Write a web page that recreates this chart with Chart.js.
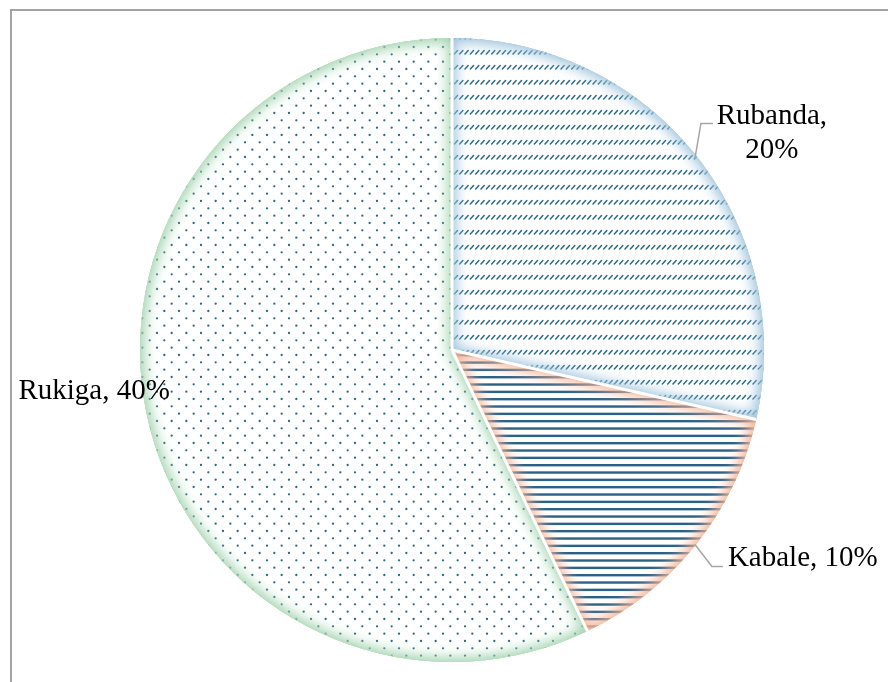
<!DOCTYPE html>
<html lang="en">
<head>
    <meta charset="UTF-8">
    <title>Distribution by District</title>
    <script src="https://cdn.jsdelivr.net/npm/chart.js"></script>
    <style>
        html, body {
            margin: 0;
            padding: 0;
            background: #ffffff;
            overflow: hidden;
        }
        .frame {
            position: absolute;
            left: 10px;
            top: 9px;
            width: 900px;
            height: 700px;
            border-top: 2px solid #a3a3a3;
            border-left: 2px solid #a3a3a3;
        }
        canvas {
            position: absolute;
            left: 0;
            top: 0;
        }
    </style>
</head>
<body>
    <div class="frame"></div>
    <canvas id="pie" width="888" height="682"></canvas>

    <script>
        // district shares
        const districts = ['Rubanda', 'Kabale', 'Rukiga'];
        const shares = [20, 10, 40];
        const shareLabels = ['20%', '10%', '40%'];

        const ink = '#2c6a8c';
        const glowColors = ['#9fc4dc', '#f4b293', '#a3d3b0'];

        function makeTile(w, h, draw) {
            const c = document.createElement('canvas');
            c.width = w;
            c.height = h;
            const g = c.getContext('2d');
            draw(g);
            return document.createElement('canvas').getContext('2d').createPattern(c, 'repeat');
        }

        // short upward diagonal dashes in rows
        const dashPattern = makeTile(16, 15, g => {
            g.strokeStyle = ink;
            g.lineWidth = 1.5;
            g.lineCap = 'round';
            for (let i = 0; i < 3; i++) {
                const x = i * 16 / 3 + 1;
                g.beginPath();
                g.moveTo(x, 9);
                g.lineTo(x + 3.2, 5.5);
                g.stroke();
            }
        });

        // horizontal lines
        const linePattern = makeTile(8, 22, g => {
            g.fillStyle = '#2a6189';
            for (let i = 0; i < 3; i++) {
                g.fillRect(0, i * 22 / 3 + 2, 8, 2.4);
            }
        });

        // staggered dots
        const dotPattern = makeTile(44, 44, g => {
            g.fillStyle = '#2d6a7f';
            for (let row = 0; row < 6; row++) {
                for (let col = 0; col < 3; col++) {
                    const x = col * 44 / 3 + (row % 2 ? 22 / 3 : 0) + 3;
                    const y = row * 44 / 6 + 3;
                    g.beginPath();
                    g.arc(x, y, 1.15, 0, Math.PI * 2);
                    g.fill();
                }
            }
        });

        function slicePath(ctx, a) {
            ctx.beginPath();
            ctx.moveTo(a.x, a.y);
            ctx.arc(a.x, a.y, a.outerRadius, a.startAngle, a.endAngle);
            ctx.closePath();
        }

        // soft coloured glow along the inside of every slice, then white separators
        const sliceGlow = {
            id: 'sliceGlow',
            afterDatasetsDraw(chart) {
                const ctx = chart.ctx;
                const arcs = chart.getDatasetMeta(0).data;
                arcs.forEach((el, i) => {
                    const a = el.getProps(['x', 'y', 'startAngle', 'endAngle', 'outerRadius'], true);
                    ctx.save();
                    slicePath(ctx, a);
                    ctx.clip();
                    ctx.beginPath();
                    ctx.rect(-2000, -2000, 5000, 5000);
                    ctx.moveTo(a.x, a.y);
                    ctx.arc(a.x, a.y, a.outerRadius, a.startAngle, a.endAngle);
                    ctx.closePath();
                    ctx.shadowColor = glowColors[i];
                    ctx.shadowBlur = 16;
                    ctx.fillStyle = glowColors[i];
                    ctx.fill('evenodd');
                    ctx.fill('evenodd');
                    ctx.restore();
                });
                ctx.save();
                ctx.strokeStyle = '#ffffff';
                ctx.lineWidth = 3;
                ctx.lineJoin = 'round';
                arcs.forEach(el => {
                    const a = el.getProps(['x', 'y', 'startAngle', 'endAngle', 'outerRadius'], true);
                    ctx.beginPath();
                    ctx.moveTo(a.x + a.outerRadius * Math.cos(a.startAngle), a.y + a.outerRadius * Math.sin(a.startAngle));
                    ctx.lineTo(a.x, a.y);
                    ctx.stroke();
                });
                ctx.restore();
            }
        };

        // category and percentage labels with leader lines
        const pieLabels = {
            id: 'pieLabels',
            afterDraw(chart) {
                const ctx = chart.ctx;
                const arcs = chart.getDatasetMeta(0).data;
                ctx.save();
                ctx.font = '29px "Liberation Serif", "Times New Roman", serif';
                ctx.fillStyle = '#000000';
                ctx.strokeStyle = '#a6a6a6';
                ctx.lineWidth = 1.5;
                arcs.forEach((el, i) => {
                    const a = el.getProps(['x', 'y', 'startAngle', 'endAngle', 'outerRadius'], true);
                    const mid = (a.startAngle + a.endAngle) / 2;
                    const ex = a.x + a.outerRadius * Math.cos(mid);
                    const ey = a.y + a.outerRadius * Math.sin(mid);
                    const name = districts[i] + ',';
                    if (i === 0) {
                        ctx.beginPath();
                        ctx.moveTo(ex - 1, ey + 3);
                        ctx.lineTo(ex + 5, ey - 32);
                        ctx.lineTo(ex + 17, ey - 32);
                        ctx.stroke();
                        ctx.textAlign = 'center';
                        ctx.textBaseline = 'alphabetic';
                        ctx.fillText(name, ex + 76, ey - 31);
                        ctx.fillText(shareLabels[i], ex + 76, ey + 3);
                    } else if (i === 1) {
                        ctx.beginPath();
                        ctx.moveTo(ex - 1, ey);
                        ctx.lineTo(ex + 16, ey + 22);
                        ctx.lineTo(ex + 27, ey + 22);
                        ctx.stroke();
                        ctx.textAlign = 'left';
                        ctx.textBaseline = 'alphabetic';
                        ctx.fillText(name + ' ' + shareLabels[i], ex + 32, ey + 21);
                    } else {
                        ctx.textAlign = 'right';
                        ctx.textBaseline = 'alphabetic';
                        ctx.fillText(name + ' ' + shareLabels[i], ex + 22, ey - 20);
                    }
                });
                ctx.restore();
            }
        };

        new Chart(document.getElementById('pie').getContext('2d'), {
            type: 'pie',
            data: {
                labels: districts,
                datasets: [{
                    data: shares,
                    backgroundColor: [dashPattern, linePattern, dotPattern],
                    borderWidth: 0
                }]
            },
            options: {
                responsive: false,
                animation: false,
                layout: {
                    padding: { left: 140, right: 124, top: 38, bottom: 20 }
                },
                plugins: {
                    legend: { display: false },
                    tooltip: { enabled: false }
                }
            },
            plugins: [sliceGlow, pieLabels]
        });
    </script>
</body>
</html>
